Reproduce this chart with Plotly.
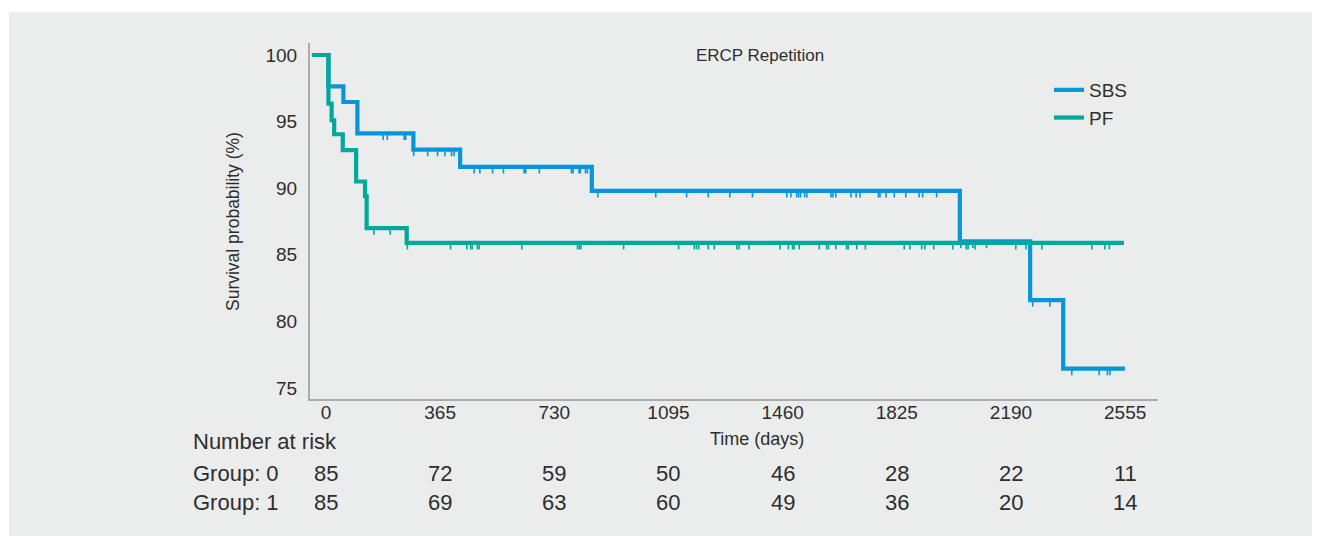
import plotly.graph_objects as go

# Kaplan-Meier curve, ERCP repetition
# the page adds an 8px body margin, so the figure is kept 8px smaller than the window
W, H = 1312, 528

sbs_times = [0, 52, 99, 143, 319, 466, 880, 2037, 2258, 2362, 2556]
sbs_surv = [100, 97.65, 96.47, 94.12, 92.9, 91.6, 89.8, 86.0, 81.6, 76.45, 76.45]
sbs_censor = [224, 237, 290, 295, 320, 364, 395, 418, 439, 447,
              510, 528, 568, 602, 667, 672, 715, 816, 821, 840, 844, 860, 866,
              899, 1081, 1178, 1246, 1314, 1385, 1493, 1506, 1524, 1530, 1536,
              1549, 1556, 1632, 1638, 1647, 1695, 1711, 1723, 1781, 1786, 1805,
              1831, 1867, 1909, 1920, 1964, 2040, 2078, 2121, 2266, 2320,
              2389, 2475, 2501, 2509]

pf_times = [0, 52, 62, 70, 97, 139, 167, 172, 298, 2553]
pf_surv = [100, 96.35, 95.1, 94.05, 92.85, 90.5, 89.4, 87.0, 85.9, 85.9]
pf_censor = [195, 246, 300, 436, 487, 499, 504, 520, 526, 660, 835, 841, 846,
             980, 1153, 1202, 1209, 1216, 1246, 1265, 1336, 1343, 1374, 1472,
             1498, 1511, 1516, 1532, 1595, 1618, 1624, 1647, 1681, 1686, 1713,
             1740, 1862, 1880, 1917, 1927, 1955, 2015, 2057, 2063, 2085, 2213,
             2245, 2295, 2452, 2493, 2507]

time_ticks = [0, 365, 730, 1095, 1460, 1825, 2190, 2555]
risk_group0 = [85, 72, 59, 50, 46, 28, 22, 11]
risk_group1 = [85, 69, 63, 60, 49, 36, 20, 14]
y_ticks = [75, 80, 85, 90, 95, 100]

BLUE = "#0796DB"
GREEN = "#00A99C"
TXT = "#2e2e2e"
FONT = "Liberation Sans"


def px(x):
    # window pixel -> paper x
    return (x - 8) / W


def py(y):
    return 1 - (y - 8) / H


def surv_at(times, surv, t):
    # value of the step curve at time t
    v = surv[0]
    for ti, si in zip(times, surv):
        if ti <= t:
            v = si
    return v


def censor_ticks(times, surv, cens, drop=0.5):
    xs, ys = [], []
    for c in cens:
        v = surv_at(times, surv, c)
        xs += [c, c, None]
        ys += [v, v - drop, None]
    return xs, ys


fig = go.Figure()

bx, by = censor_ticks(sbs_times, sbs_surv, sbs_censor)
gx, gy = censor_ticks(pf_times, pf_surv, pf_censor)

fig.add_trace(go.Scatter(x=bx, y=by, mode="lines", line=dict(color=BLUE, width=1.6),
                         showlegend=False, hoverinfo="skip"))
fig.add_trace(go.Scatter(x=gx, y=gy, mode="lines", line=dict(color=GREEN, width=1.6),
                         showlegend=False, hoverinfo="skip"))
fig.add_trace(go.Scatter(x=sbs_times, y=sbs_surv, mode="lines", name="SBS",
                         line=dict(color=BLUE, width=4.2, shape="hv")))
fig.add_trace(go.Scatter(x=pf_times, y=pf_surv, mode="lines", name="PF",
                         line=dict(color=GREEN, width=4.2, shape="hv")))

# invisible trace so the label axis exists
fig.add_trace(go.Scatter(x=[time_ticks[0]], y=[y_ticks[0]], xaxis="x2", mode="markers",
                         marker=dict(opacity=0), showlegend=False, hoverinfo="skip"))

x_dom = [px(310), px(1158)]
y_dom = [py(399), py(43)]

# number at risk table
ann = []
ann.append(dict(text="Number at risk", x=px(191), y=py(441), xref="paper", yref="paper",
                xanchor="left", yanchor="middle", showarrow=False, font=dict(size=22, color=TXT)))
for row, (label, vals) in enumerate([("Group: 0", risk_group0), ("Group: 1", risk_group1)]):
    ypos = py(473 + row * 29)
    ann.append(dict(text=label, x=px(191), y=ypos, xref="paper", yref="paper",
                    xanchor="left", yanchor="middle", showarrow=False,
                    font=dict(size=22, color=TXT)))
    for t, n in zip(time_ticks, vals):
        ann.append(dict(text=str(n), x=t, y=ypos, xref="x2", yref="paper",
                        xanchor="center", yanchor="middle", showarrow=False,
                        font=dict(size=22, color=TXT)))

ann.append(dict(text="Time (days)", x=px(757), y=py(439), xref="paper", yref="paper",
                xanchor="center", yanchor="middle", showarrow=False,
                font=dict(size=18, color=TXT)))
ann.append(dict(text="Survival probability (%)", x=px(233), y=py(222), xref="paper",
                yref="paper", xanchor="center", yanchor="middle", textangle=-90,
                showarrow=False, font=dict(size=17.5, color=TXT)))

fig.update_layout(
    width=W, height=H,
    margin=dict(l=0, r=0, t=0, b=0),
    paper_bgcolor="white",
    plot_bgcolor="rgba(0,0,0,0)",
    font=dict(family=FONT, color=TXT),
    title=dict(text="ERCP Repetition", x=px(760), y=py(55), xanchor="center",
               yanchor="middle", font=dict(size=17, color=TXT)),
    shapes=[dict(type="rect", xref="paper", yref="paper", x0=px(9), x1=1, y0=0,
                 y1=py(12), fillcolor="#EBECEC", line=dict(width=0), layer="below")],
    annotations=ann,
    legend=dict(x=px(1091) - 42 / W, y=py(71), xanchor="left", yanchor="top",
                bgcolor="rgba(0,0,0,0)", font=dict(size=19, color=TXT),
                tracegroupgap=0),
    xaxis=dict(domain=x_dom, range=[-6, 2660], showline=True, linecolor="#ababab",
               linewidth=2, showgrid=False, zeroline=False, showticklabels=False,
               ticks=""),
    xaxis2=dict(domain=x_dom, overlaying="x", anchor="y", side="bottom",
                range=[-51, 2660], tickvals=time_ticks, showgrid=False,
                zeroline=False, showline=False, ticks="",
                tickfont=dict(size=19, color=TXT)),
    yaxis=dict(domain=y_dom, range=[74.17, 100.9], showline=True, linecolor="#ababab",
               linewidth=2, showgrid=False, zeroline=False, tickvals=y_ticks,
               ticks="", ticklabelstandoff=7, tickfont=dict(size=19, color=TXT)),
    showlegend=True,
)

fig.write_html("out.html")
